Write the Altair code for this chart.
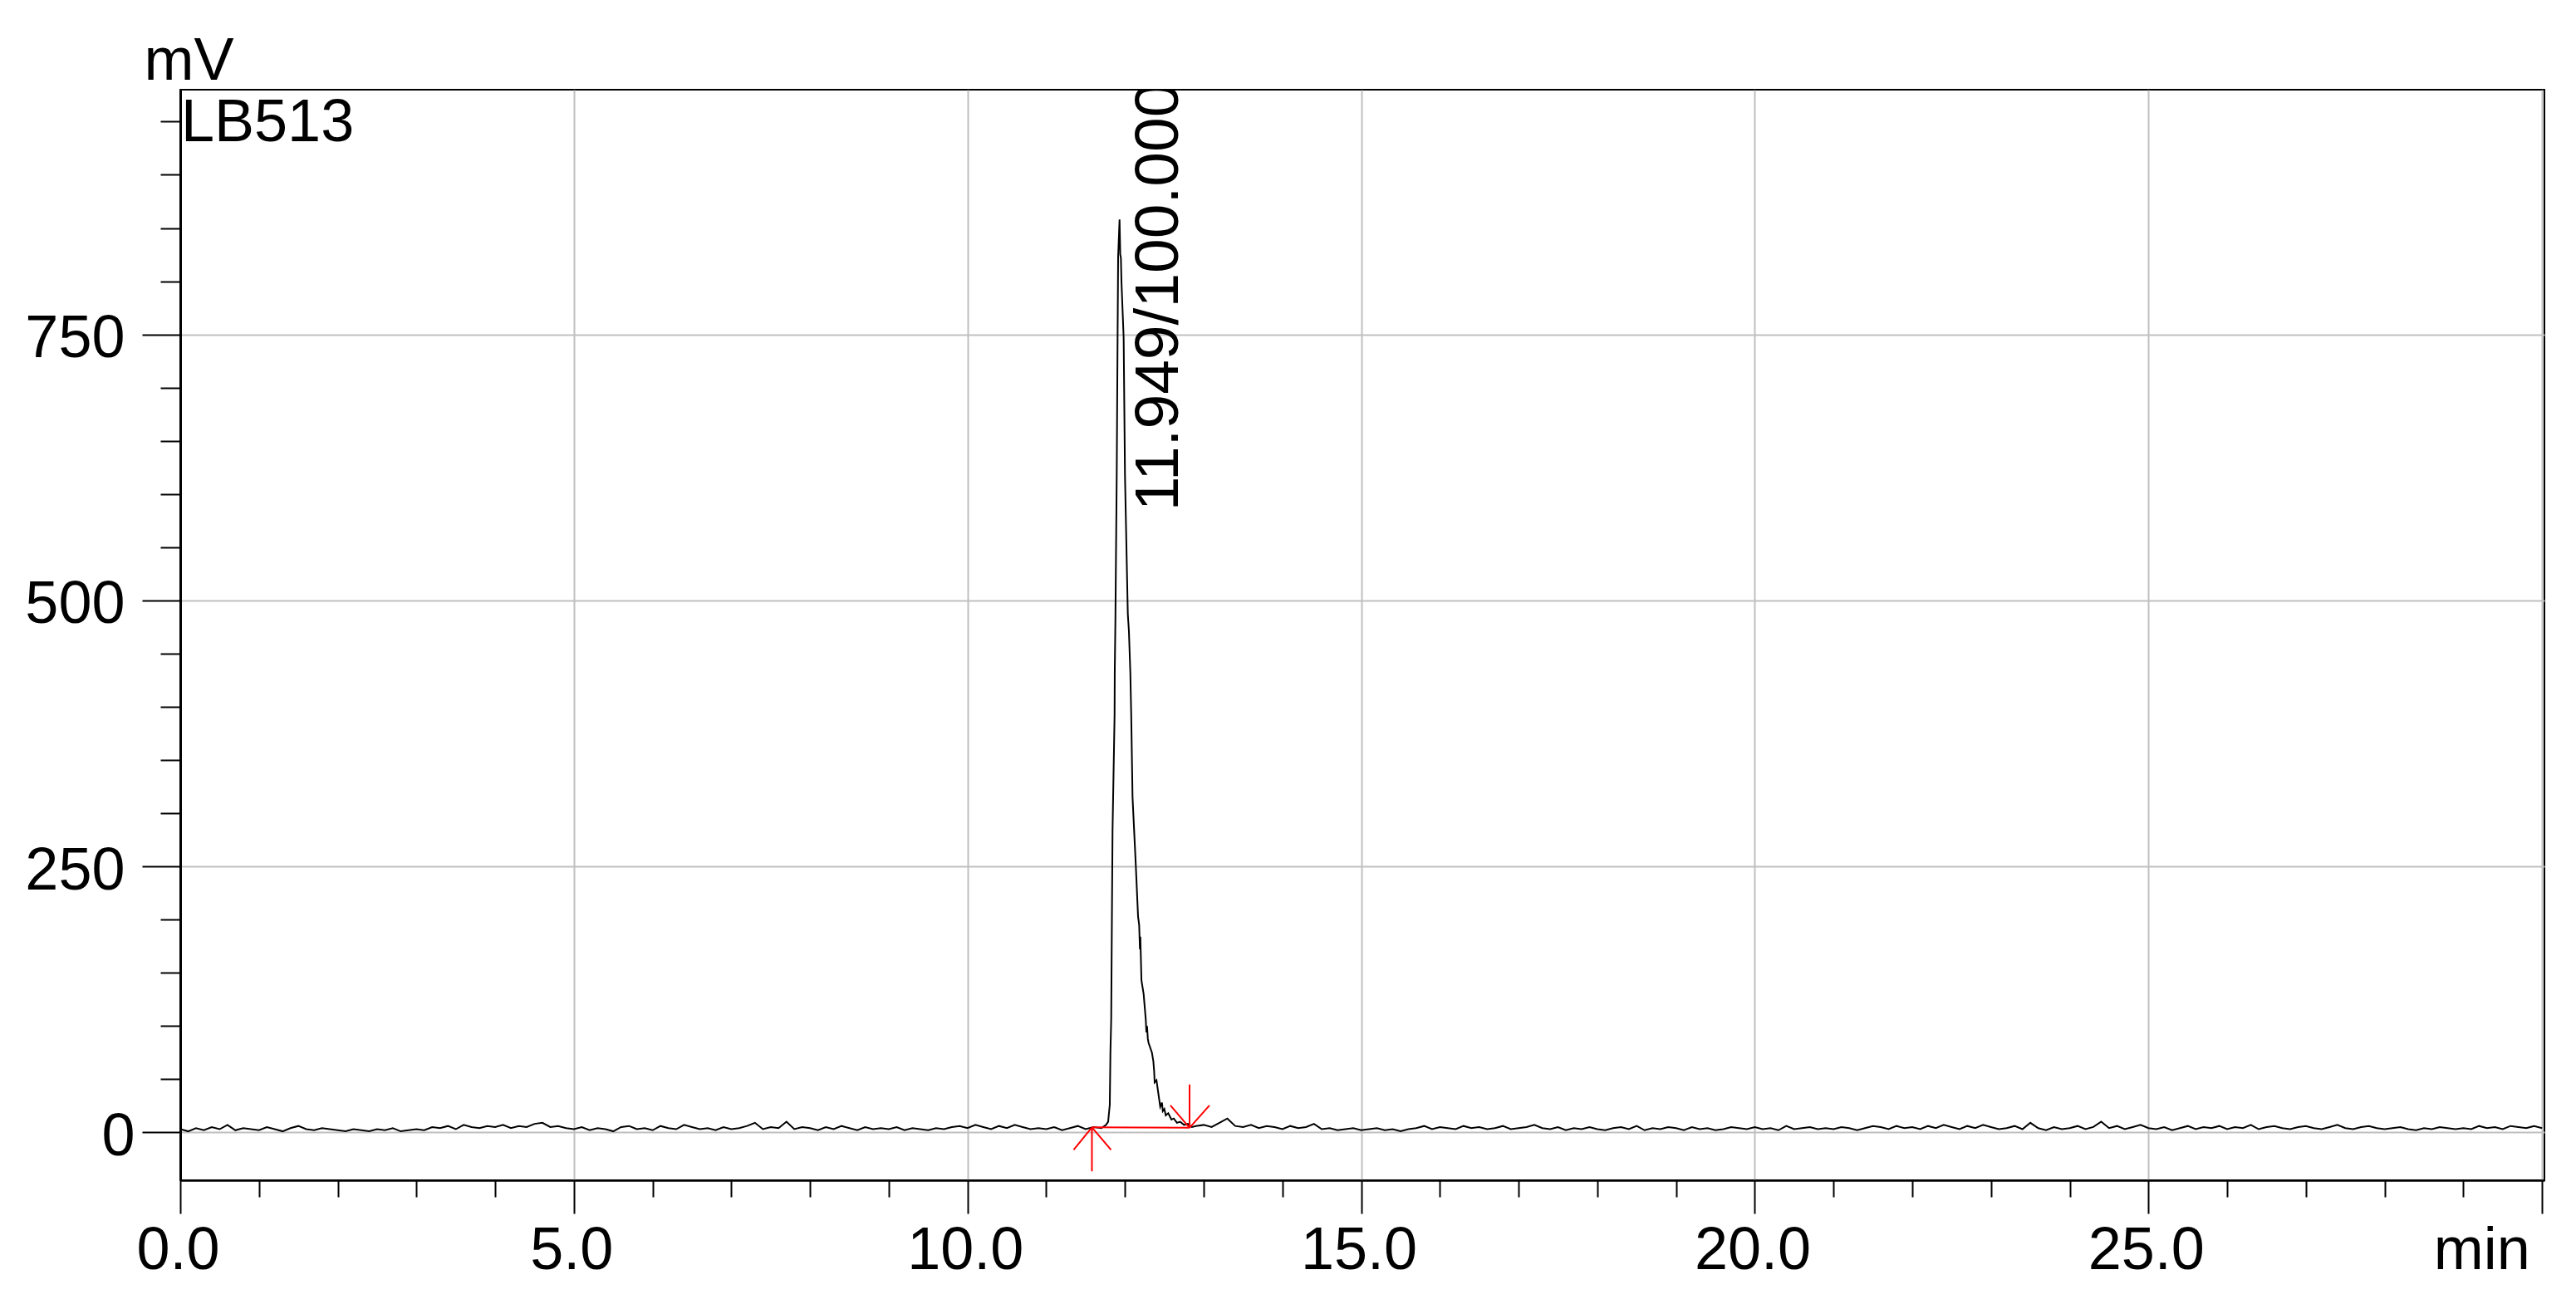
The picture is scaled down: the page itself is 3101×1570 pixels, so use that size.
import altair as alt
import pandas as pd

# ---------------- data ----------------
sample_name = "LB513"
peak_label = "11.949/100.000"
peak_rt = 11.949
label_mv = 584

# baseline before the peak, every 0.1 min from 0.0 to 11.7 (mV)
baseline_left = [
    3, 1, 4, 2, 5, 3, 7, 2, 4, 3,
    2, 5, 3, 1, 4, 6, 3, 2, 4, 3,
    2, 1, 3, 2, 1, 3, 2, 4, 1, 2,
    3, 2, 5, 4, 6, 3, 7, 5, 4, 6,
    5, 7, 4, 6, 5, 8, 9, 5, 6, 4,
    3, 5, 2, 4, 3, 1, 5, 6, 3, 4,
    2, 6, 4, 3, 7, 5, 3, 4, 2, 5,
    3, 4, 6, 9, 3, 5, 4, 10, 3, 5,
    4, 2, 5, 3, 6, 4, 2, 5, 3, 4,
    3, 5, 2, 4, 3, 2, 4, 3, 5, 6,
    4, 7, 5, 3, 6, 4, 7, 5, 3, 4,
    3, 5, 2, 4, 6, 3, 5, 4,
]

# the peak itself
peak_t = [11.74, 11.76, 11.786, 11.807, 11.815, 11.825, 11.834, 11.842, 11.868,
          11.87, 11.878, 11.895, 11.906, 11.913, 11.931, 11.94, 11.948, 11.955,
          11.983, 12.0, 12.036, 12.05, 12.068, 12.079, 12.096, 12.138, 12.166,
          12.18, 12.19, 12.195, 12.209, 12.237, 12.264, 12.272, 12.28, 12.29,
          12.30, 12.342, 12.36, 12.37, 12.377, 12.40, 12.448, 12.47, 12.48,
          12.50, 12.518, 12.55, 12.59, 12.62, 12.66, 12.70, 12.75, 12.80, 12.85]
peak_mv = [6, 7, 10, 26, 75, 106, 203, 284, 393,
           432, 480, 617, 747, 823, 858, 825, 822, 800,
           747, 617, 487, 471, 432, 393, 315, 250, 203,
           195, 172, 184, 143, 130, 106, 94, 100, 88,
           84, 75, 67, 58, 47, 49, 24, 28, 20,
           22, 16, 18, 12, 13, 9, 10, 7, 8, 5]

# baseline after the peak, every 0.1 min from 12.9 to 30.0 (mV)
baseline_right = [
    6,
    7, 5, 9, 13, 6, 5, 7, 4, 6, 5,
    3, 6, 4, 5, 8, 3, 4, 2, 3, 4,
    2, 3, 4, 2, 3, 1, 3, 4, 6, 3,
    5, 4, 3, 6, 4, 5, 3, 4, 6, 3,
    4, 5, 7, 4, 3, 5, 2, 4, 3, 5,
    3, 2, 4, 5, 3, 6, 2, 4, 3, 5,
    4, 2, 5, 3, 4, 2, 3, 5, 4, 3,
    5, 3, 4, 2, 6, 3, 4, 5, 3, 4,
    3, 5, 4, 2, 4, 6, 5, 3, 6, 4,
    5, 3, 6, 4, 7, 5, 3, 6, 4, 7,
    5, 3, 4, 6, 3, 9, 4, 2, 5, 3,
    4, 6, 3, 5, 10, 4, 6, 3, 5, 7,
    4, 3, 5, 2, 4, 6, 3, 5, 4, 6,
    3, 5, 4, 7, 3, 5, 6, 4, 3, 5,
    6, 4, 3, 5, 7, 4, 3, 5, 6, 4,
    3, 4, 5, 3, 2, 4, 3, 5, 4, 3,
    4, 3, 6, 4, 5, 3, 6, 5, 4, 6,
    4,
]

# integration start / end points
peak_start = (11.58, 4.7)
peak_end = (12.82, 4.3)

# ---------------- build tables ----------------
t_left = [round(i * 0.1, 1) for i in range(len(baseline_left))]
t_right = [round(12.9 + i * 0.1, 1) for i in range(len(baseline_right))]
trace = pd.DataFrame({
    "t": t_left + peak_t + t_right,
    "mv": baseline_left + peak_mv + baseline_right,
})
marks_df = pd.DataFrame({
    "t": [peak_start[0]], "mv": [peak_start[1]],
    "t2": [peak_end[0]], "mv2": [peak_end[1]],
})
start_df = pd.DataFrame({"t": [peak_start[0]], "mv": [peak_start[1]]})
end_df = pd.DataFrame({"t": [peak_end[0]], "mv": [peak_end[1]]})
label_df = pd.DataFrame({"t": [peak_rt], "mv": [label_mv], "txt": [peak_label]})
name_df = pd.DataFrame({"txt": [sample_name]})

FONT = "Liberation Sans"
FS = 72

x_scale = alt.Scale(domain=[0, 30.03], nice=False, zero=False)
y_scale = alt.Scale(domain=[-45, 980], nice=False, zero=False)

x_axis = alt.Axis(
    values=list(range(0, 31)),
    labelExpr="datum.value % 5 == 0 ? (datum.value == 30 ? 'min' : format(datum.value, '.1f')) : ''",
    tickSize={"condition": {"test": "datum.value % 5 == 0", "value": 40}, "value": 20},
    gridOpacity={"condition": {"test": "datum.value % 5 == 0", "value": 1}, "value": 0},
    labelOffset={"condition": {"test": "datum.value == 30", "value": -73}, "value": -3},
    labelPadding=66,
    labelBaseline="alphabetic",
    labelFontSize=FS,
    labelFont=FONT,
    labelColor="black",
    labelFlush=False,
    labelOverlap=False,
    title=None,
    domainColor="black",
    domainWidth=2.5,
    tickColor="black",
    tickWidth=2,
    gridColor="#c0c0c0",
    gridWidth=2,
)

y_axis = alt.Axis(
    values=list(range(0, 1000, 50)),
    labelExpr="datum.value % 250 == 0 ? format(datum.value, 'd') : ''",
    tickSize={"condition": {"test": "datum.value % 250 == 0", "value": 46}, "value": 24},
    gridOpacity={"condition": {"test": "datum.value % 250 == 0", "value": 1}, "value": 0},
    labelPadding={"condition": {"test": "datum.value == 0", "value": 9}, "value": 21},
    labelOffset=27,
    labelBaseline="alphabetic",
    labelFontSize=FS,
    labelFont=FONT,
    labelColor="black",
    labelFlush=False,
    labelOverlap=False,
    title="mV",
    titleAngle=0,
    titleX=10,
    titleY=-13,
    titleAlign="center",
    titleBaseline="alphabetic",
    titleFontSize=FS,
    titleFont=FONT,
    titleFontWeight="normal",
    titleColor="black",
    domainColor="black",
    domainWidth=3,
    tickColor="black",
    tickWidth=2,
    gridColor="#c0c0c0",
    gridWidth=2,
)

line = alt.Chart(trace).mark_line(color="black", strokeWidth=2, clip=True).encode(
    x=alt.X("t:Q", scale=x_scale, axis=x_axis),
    y=alt.Y("mv:Q", scale=y_scale, axis=y_axis),
)

base_rule = alt.Chart(marks_df).mark_rule(color="red", strokeWidth=2).encode(
    x="t:Q", x2="t2:Q", y="mv:Q", y2="mv2:Q"
)

start_mark = alt.Chart(start_df).mark_point(
    shape="M0,0L0,53M0,0L-22,27M0,0L23,27",
    size=4, filled=False, stroke="red", strokeWidth=2, opacity=1,
).encode(x="t:Q", y="mv:Q")

end_mark = alt.Chart(end_df).mark_point(
    shape="M0,0L0,-52M0,0L-23,-27M0,0L24,-27",
    size=4, filled=False, stroke="red", strokeWidth=2, opacity=1,
).encode(x="t:Q", y="mv:Q")

peak_text = alt.Chart(label_df).mark_text(
    angle=270, align="left", baseline="alphabetic", dy=69,
    font=FONT, fontSize=75, color="black", clip=True,
).encode(x="t:Q", y="mv:Q", text="txt:N")

name_text = alt.Chart(name_df).mark_text(
    align="left", baseline="alphabetic", dx=1, dy=62,
    font=FONT, fontSize=FS, color="black",
).encode(x=alt.datum(0), y=alt.datum(980), text="txt:N")

chart = alt.layer(line, base_rule, start_mark, end_mark, peak_text, name_text).properties(
    width=2846,
    height=1313,
    autosize=alt.AutoSizeParams(type="none"),
    padding={"left": 209, "top": 100, "right": 25, "bottom": 130},
    background="white",
).configure(
    font=FONT,
    view=alt.ViewConfig(stroke="black", strokeWidth=2),
)

chart.save("out.html", embed_options={"renderer": "svg", "actions": False})
